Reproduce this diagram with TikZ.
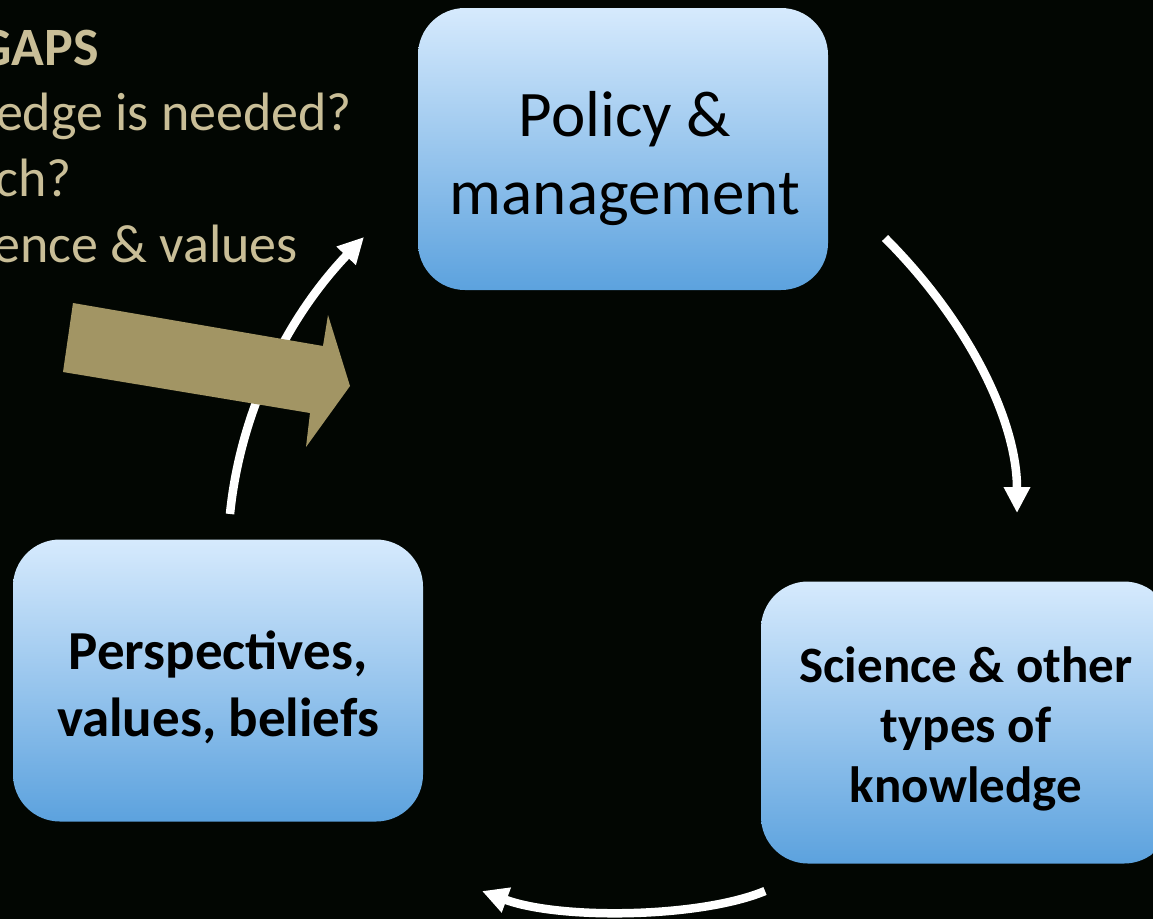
\documentclass[tikz,border=0pt]{standalone}
\usepackage{fontspec}
\setmainfont{Carlito}
\usetikzlibrary{arrows.meta}

\definecolor{bgdark}{RGB}{2,6,2}
\definecolor{boxtop}{RGB}{214,234,253}
\definecolor{boxbottom}{RGB}{92,162,222}
\definecolor{tantext}{RGB}{201,190,151}
\definecolor{tanarrow}{RGB}{162,149,100}

\tikzset{
  cyclebox/.style={rectangle, rounded corners=47pt, minimum width=410pt,
    minimum height=282pt, inner sep=0pt, top color=boxtop,
    bottom color=boxbottom, draw=none},
  boxtext/.style={align=center, text=black, inner sep=0pt},
  gapline/.style={anchor=base east, text=tantext, inner sep=0pt,
    font=\fontsize{54pt}{65pt}\selectfont},
  cyclearrow/.style={draw=white, line width=8.5pt,
    -{Triangle[width=25pt,length=26pt]}},
}

\begin{document}
\begin{tikzpicture}[x=1pt, y=1pt]
  % canvas
  \useasboundingbox (0,0) rectangle (1153,-919);
  \fill[bgdark] (0,0) rectangle (1153,-919);
  \clip (0,0) rectangle (1153,-919);

  % heading and questions at the upper left
  \node[gapline, font=\fontsize{54pt}{65pt}\selectfont\bfseries] (gaps1) at (99,-65) {GAPS};
  \node[gapline] (gaps2) at (352,-130) {edge is needed?};
  \node[gapline] (gaps3) at (72,-196) {ch?};
  \node[gapline] (gaps4) at (298,-262) {ence \& values};

  % end points of the cycle arrows
  \coordinate (a1s) at (885,-238);
  \coordinate (a1e) at (1017,-513);
  \coordinate (a2s) at (765,-891);
  \coordinate (a2e) at (482,-891);
  \coordinate (a3s) at (230,-514);
  \coordinate (a3e) at (364,-237);

  % white cycle arrows
  \draw[cyclearrow] (a1s) .. controls (969,-322) and (1017,-421) .. (a1e);
  \draw[cyclearrow] (a2s) .. controls (700,-918) and (560,-920) .. (a2e);
  \draw[cyclearrow] (a3s) .. controls (240,-414) and (285,-320) .. (a3e);

  % broad tan block arrow crossing the left cycle arrow
  \fill[tanarrow] (73,-303) -- (323,-346) -- (328,-315) -- (350,-386)
    -- (306,-447) -- (310,-413) -- (63,-372) -- cycle;

  % the three boxes of the cycle
  \node[cyclebox] (policy) at (623,-149) {};
  \node[cyclebox] (science) at (966,-722.5) {};
  \node[cyclebox] (values) at (218,-680.5) {};

  \node[boxtext, font=\fontsize{65pt}{78pt}\selectfont] (policytxt)
    at (625,-159) {Policy \&\\management};
  \node[boxtext, font=\fontsize{51pt}{60pt}\selectfont\bfseries] (sciencetxt)
    at (966,-729) {Science \& other\\types of\\knowledge};
  \node[boxtext, font=\fontsize{55pt}{67pt}\selectfont\bfseries] (valuestxt)
    at (218,-687) {Perspectives,\\values, beliefs};
\end{tikzpicture}
\end{document}
